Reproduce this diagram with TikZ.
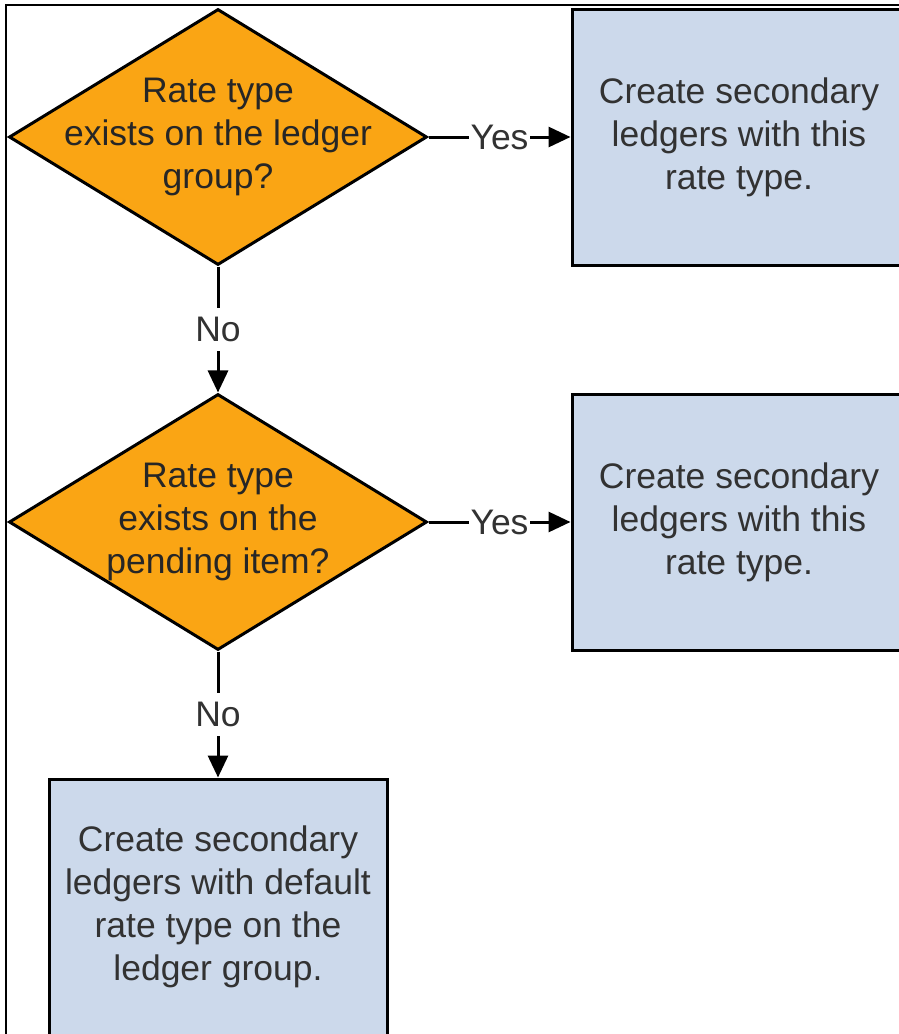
\documentclass[tikz,border=0pt]{standalone}
\usepackage{fontspec}
\setmainfont{Liberation Sans}
\usetikzlibrary{shapes.geometric,arrows.meta}
\definecolor{decisionorange}{RGB}{250,165,20}
\definecolor{actionblue}{RGB}{204,217,235}
\definecolor{textgray}{RGB}{50,50,50}
\begin{document}
\begin{tikzpicture}[x=1pt, y=-1pt,
		font=\fontsize{35.5}{43}\selectfont, text=textgray,
		decision/.style={diamond, draw, line width=3pt, fill=decisionorange,
			minimum width=418pt, minimum height=256pt, inner sep=0pt},
		qtext/.style={align=center, inner sep=0pt, text=black!85},
		action/.style={rectangle, draw, line width=3pt, fill=actionblue,
			minimum width=334pt, minimum height=256pt, align=center},
		flow/.style={line width=3pt, -{Triangle[length=22pt,width=20pt]}},
		answer/.style={fill=white, inner xsep=2pt, inner ysep=9pt}]
		\path[use as bounding box, clip] (0,0) rectangle (899,1034);
		\draw[line width=2pt] (6,1034) -- (6,5) -- (899,5);
		% decisions
		\node[decision] (q1) at (218,137) {};
		\node[qtext] at (q1) {Rate type\\exists on the ledger\\group?};
		\node[decision] (q2) at (218,522) {};
		\node[qtext] at (q2) {Rate type\\exists on the\\pending item?};
		% actions
		\node[action] (r1) at (739,137) {Create secondary\\ledgers with this\\rate type.};
		\node[action] (r2) at (739,522) {Create secondary\\ledgers with this\\rate type.};
		\node[action, minimum width=338pt] (r3) at (218,907) {Create secondary\\ledgers with default\\rate type on the\\ledger group.};
		% connectors
		\draw[flow] (q1) -- node[answer]{Yes} (r1);
		\draw[flow] (q2) -- node[answer]{Yes} (r2);
		\draw[flow] (q1) -- node[answer]{No} (q2);
		\draw[flow] (q2) -- node[answer]{No} (r3);
	\end{tikzpicture}
\end{document}
